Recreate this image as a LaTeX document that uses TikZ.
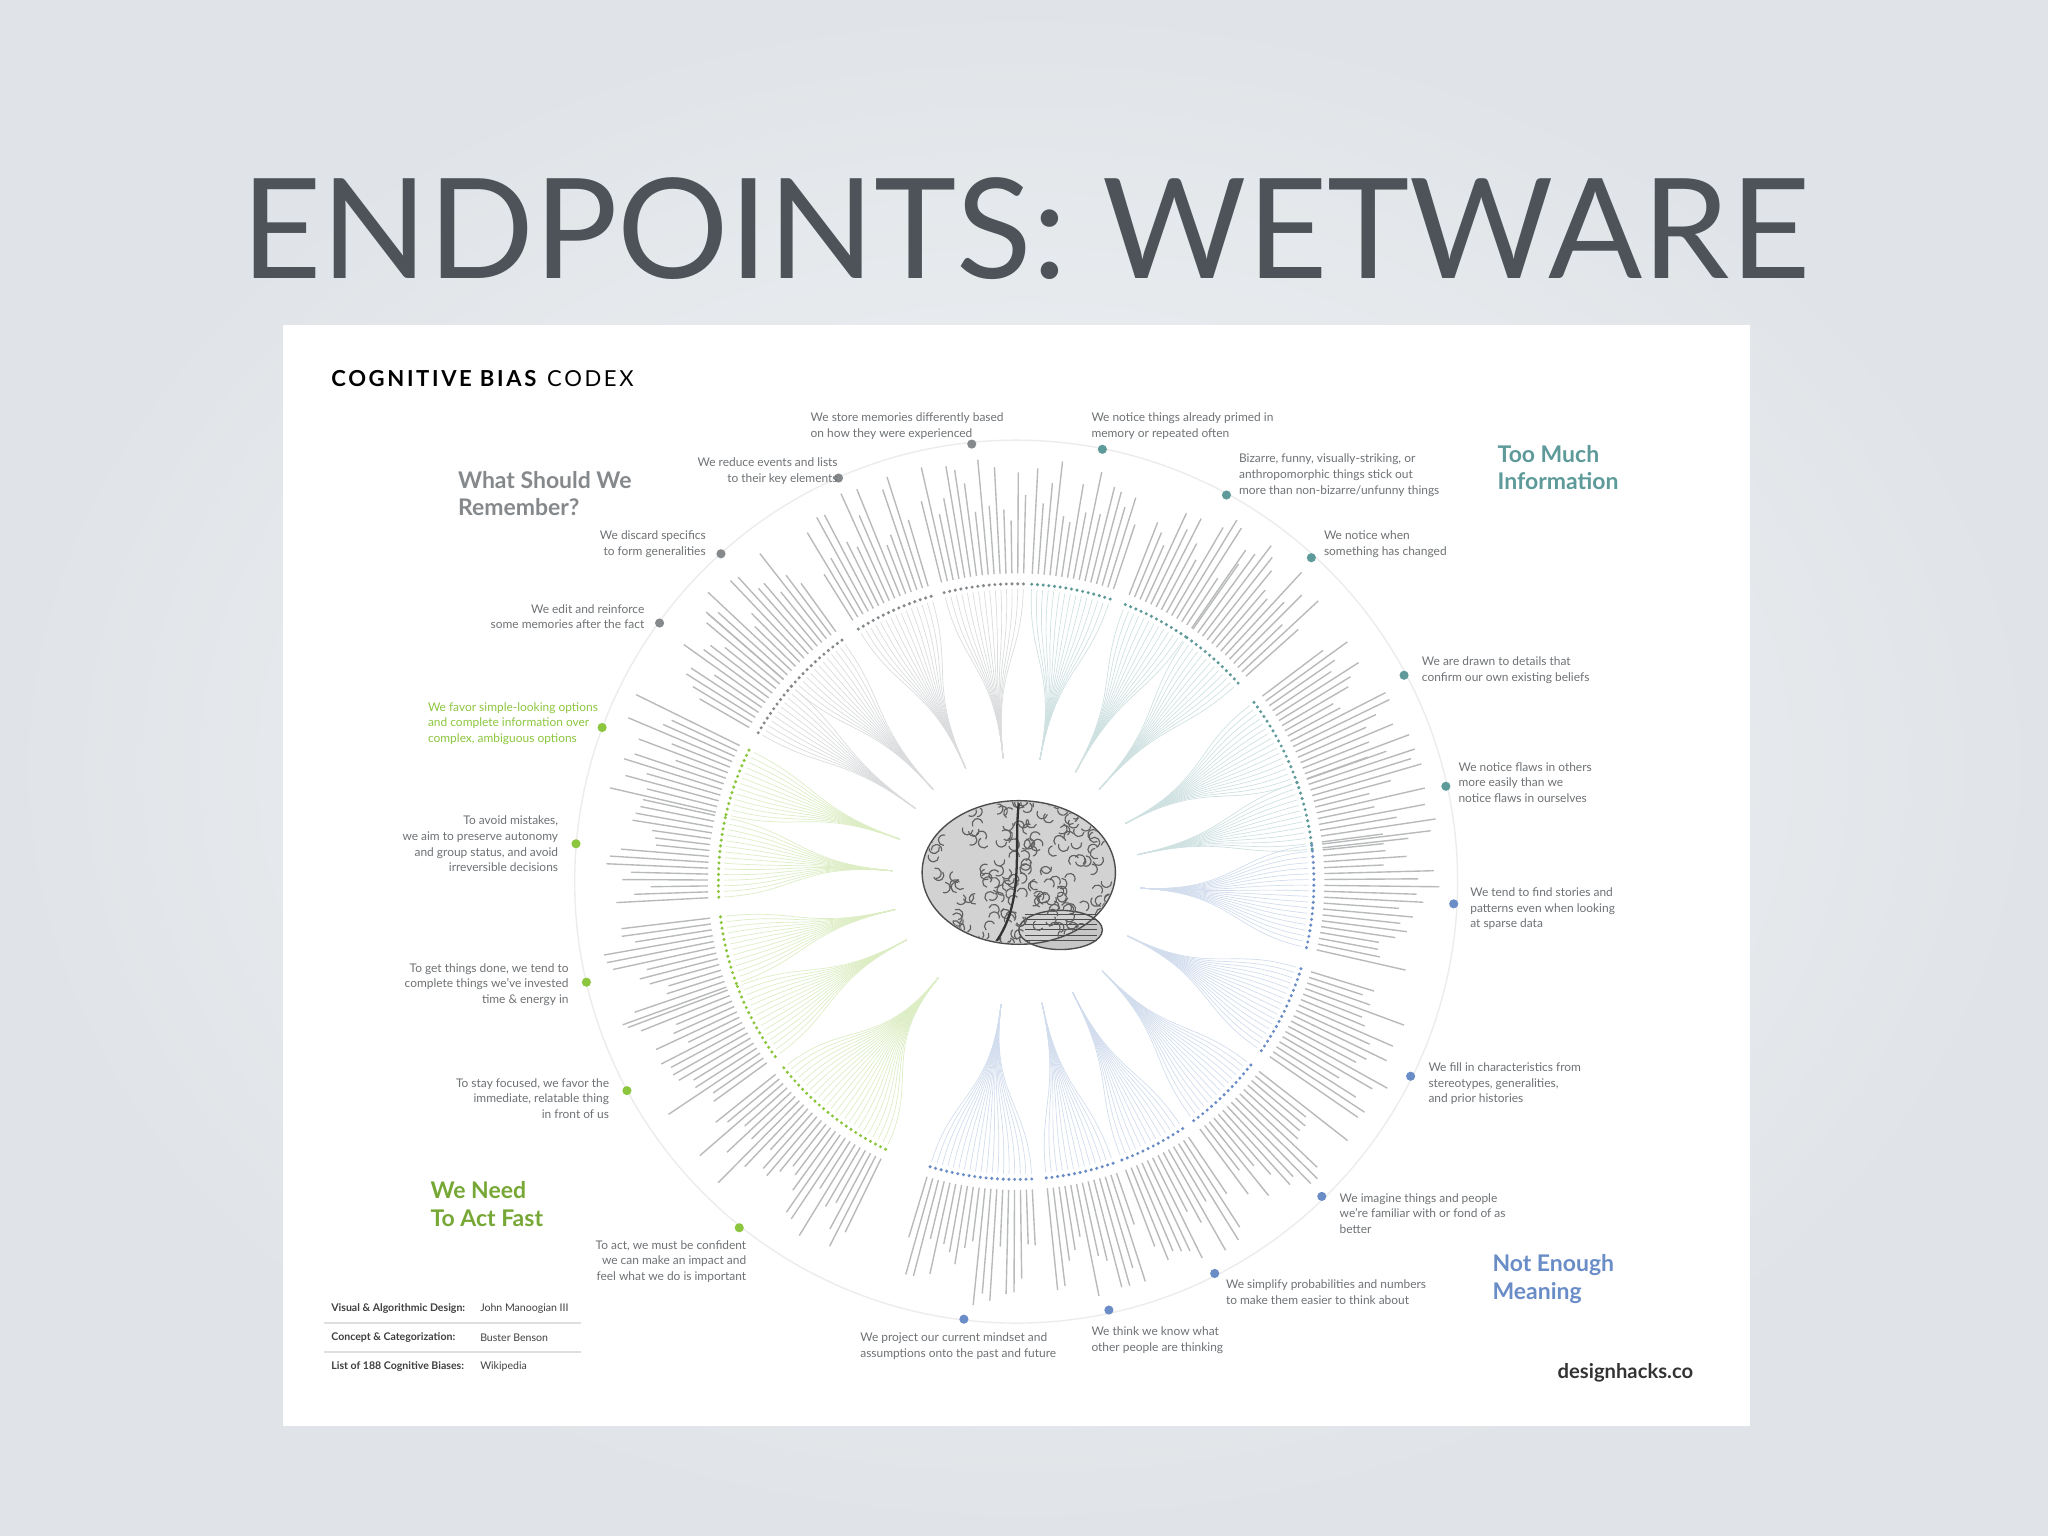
\documentclass[tikz,border=0pt]{standalone}
\usepackage{fontspec}
\setmainfont{Lato}
\definecolor{memg}{HTML}{85898C}
\definecolor{tealc}{HTML}{5E9A9A}
\definecolor{bluc}{HTML}{6A8CC7}
\definecolor{grnc}{HTML}{8CC63E}
\definecolor{titc}{HTML}{4D5358}
\definecolor{txtc}{HTML}{6E7275}
\definecolor{bgin}{HTML}{F2F4F6}
\definecolor{bgout}{HTML}{E0E4E8}
\tikzset{
 lab/.style={font=\fontsize{2.6}{3.41}\selectfont, text=txtc, inner sep=0},
 quad/.style={font=\bfseries\fontsize{5}{6}\selectfont, inner sep=0, align=left},
 biastxt/.style={txtc!50, line width=0.3pt},
 fanln/.style={line width=0.15pt},
 dotc/.style={inner sep=0, minimum size=0.07cm, circle},
}
\begin{document}
\begin{tikzpicture}[x=0.01cm,y=-0.01cm]
\useasboundingbox (0,0) rectangle (1568,1176);
\shade[inner color=bgin, outer color=bgout] (0,0) rectangle (1568,1176);
\node (title) at (785,175) {\resizebox{12cm}{!}{\color{titc}\fontsize{32}{32}\selectfont ENDPOINTS: WETWARE}};
\fill[white] (217,249) rectangle (1340,1092);
\node[anchor=west, inner sep=0] (codex) at (253,290) {\fontsize{4.8}{5}\selectfont\addfontfeature{LetterSpace=12}\textbf{COGNITIVE BIAS} CODEX};
% outer ring
\draw[gray!15, line width=0.3pt] (778,675) circle (338);
\begin{scope}[shift={(778,675)}]
\pgfmathsetseed{7}
\foreach \c/\h/\col in {3/10/bluc,26/9/bluc,46/8/bluc,63/7/bluc,78/7/bluc,97/10/bluc,129/13/grnc,152/8/grnc,167/7/grnc,185/8/grnc,200/7/grnc,216/6/memg,228/7/memg,246/8/memg,264/8/memg,281/8/tealc,298.5/7/tealc,312/7/tealc,332/9/tealc,347.5/7/tealc}{
 \pgfmathsetmacro\lo{\c-\h}
 \pgfmathsetmacro\nx{\c-\h+1.1}
 \pgfmathsetmacro\hi{\c+\h}
 \foreach \a in {\lo,\nx,...,\hi}{
  \pgfmathsetmacro\len{40+rnd*50}
  \draw[fanln,\col!30] (\c:95) .. controls (\c:165) and (\a:170) .. (\a:224);
  \draw[biastxt] (\a:236) -- (\a:{236+\len});
  \fill[\col] (\a:228) circle (1.3);
 }
}
\end{scope}
% brain
\begin{scope}
\fill[gray!45] (812,712) ellipse (32 and 15);
\fill[gray!35] (780,668) ellipse (74 and 55);
\draw[gray!60!black, line width=0.3pt] (780,668) ellipse (74 and 55);
\draw[gray!60!black, line width=0.3pt] (812,712) ellipse (32 and 15);
\foreach \k in {0,...,5}{\draw[gray!60!black, line width=0.2pt] (785,{700+\k*4}) -- (840,{700+\k*4});}
\clip (780,668) ellipse (73 and 54);
\pgfmathsetseed{3}
\foreach \i in {1,...,220}{
 \pgfmathsetmacro\px{706+rnd*148}
 \pgfmathsetmacro\py{612+rnd*112}
 \pgfmathsetmacro\st{rnd*360}
 \draw[gray!75!black, line width=0.25pt] (\px,\py) arc[start angle=\st, delta angle=200, radius=4];
}
\draw[gray!40!black, line width=0.5pt] (780,615) .. controls (776,650) and (785,690) .. (762,722);
\end{scope}
% dots and labels
\tikzset{ring/.style={dotc, fill=#1}}
\node[ring=memg] (d1) at (744,340) {};
\node[lab, anchor=south west, align=left] (t1) at (620,337) {We store memories differently based\\on how they were experienced};
\node[ring=tealc] (d2) at (844,344) {};
\node[lab, anchor=south west, align=left] (t2) at (835,337) {We notice things already primed in\\memory or repeated often};
\node[ring=tealc] (d3) at (939,379) {};
\node[lab, anchor=north west, align=left] (t3) at (948,347) {Bizarre, funny, visually-striking, or\\anthropomorphic things stick out\\more than non-bizarre/unfunny things};
\node[ring=tealc] (d4) at (1004,427) {};
\node[lab, anchor=north west, align=left] (t4) at (1013,406) {We notice when\\something has changed};
\node[ring=tealc] (d5) at (1075,517) {};
\node[lab, anchor=north west, align=left] (t5) at (1088,502) {We are drawn to details that\\confirm our own existing beliefs};
\node[ring=tealc] (d6) at (1107,602) {};
\node[lab, anchor=north west, align=left] (t6) at (1116,583) {We notice flaws in others\\more easily than we\\notice flaws in ourselves};
\node[ring=bluc] (d7) at (1113,692) {};
\node[lab, anchor=north west, align=left] (t7) at (1125,679) {We tend to find stories and\\patterns even when looking\\at sparse data};
\node[ring=bluc] (d8) at (1080,824) {};
\node[lab, anchor=north west, align=left] (t8) at (1093,813) {We fill in characteristics from\\stereotypes, generalities,\\and prior histories};
\node[ring=bluc] (d9) at (1012,916) {};
\node[lab, anchor=north west, align=left] (t9) at (1025,913) {We imagine things and people\\we're familiar with or fond of as\\better};
\node[ring=bluc] (d10) at (930,975) {};
\node[lab, anchor=north west, align=left] (t10) at (938,979) {We simplify probabilities and numbers\\to make them easier to think about};
\node[ring=bluc] (d11) at (849,1003) {};
\node[lab, anchor=north west, align=left] (t11) at (835,1015) {We think we know what\\other people are thinking};
\node[ring=bluc] (d12) at (738,1010) {};
\node[lab, anchor=north west, align=left] (t12) at (658,1020) {We project our current mindset and\\assumptions onto the past and future};
\node[ring=grnc] (d13) at (566,940) {};
\node[lab, anchor=north east, align=right] (t13) at (572,949) {To act, we must be confident\\we can make an impact and\\feel what we do is important};
\node[ring=grnc] (d14) at (480,835) {};
\node[lab, anchor=north east, align=right] (t14) at (467,825) {To stay focused, we favor the\\immediate, relatable thing\\in front of us};
\node[ring=grnc] (d15) at (449,752) {};
\node[lab, anchor=north east, align=right] (t15) at (436,737) {To get things done, we tend to\\complete things we've invested\\time \& energy in};
\node[ring=grnc] (d16) at (441,646) {};
\node[lab, anchor=north east, align=right] (t16) at (428,624) {To avoid mistakes,\\we aim to preserve autonomy\\and group status, and avoid\\irreversible decisions};
\node[ring=grnc] (d17) at (461,557) {};
\node[lab, text=grnc, anchor=north west, align=left] (t17) at (327,537) {We favor simple-looking options\\and complete information over\\complex, ambiguous options};
\node[ring=memg] (d18) at (505,477) {};
\node[lab, anchor=north east, align=right] (t18) at (494,462) {We edit and reinforce\\some memories after the fact};
\node[ring=memg] (d19) at (552,424) {};
\node[lab, anchor=north east, align=right] (t19) at (541,406) {We discard specifics\\to form generalities};
\node[ring=memg] (d20) at (642,366) {};
\node[lab, anchor=north east, align=right] (t20) at (642,350) {We reduce events and lists\\to their key elements};
% quadrant titles
\node[quad, text=memg, anchor=north west] (q1) at (350,360) {What Should We\\Remember?};
\node[quad, text=tealc, anchor=north west] (q2) at (1146,340) {Too Much\\Information};
\node[quad, text=grnc!85!black, anchor=north west] (q3) at (329,904) {We Need\\To Act Fast};
\node[quad, text=bluc, anchor=north west] (q4) at (1142,960) {Not Enough\\Meaning};
% credits
\tikzset{cred/.style={font=\fontsize{2.3}{3}\selectfont, inner sep=0, anchor=west, text=black!75},
 credb/.style={cred, font=\bfseries\fontsize{2.3}{3}\selectfont}}
\node[credb] (c1) at (253,1002) {Visual \& Algorithmic Design:};
\node[cred] (c1b) at (367,1002) {John Manoogian III};
\node[credb] (c2) at (253,1024) {Concept \& Categorization:};
\node[cred] (c2b) at (367,1024) {Buster Benson};
\node[credb] (c3) at (253,1046) {List of 188 Cognitive Biases:};
\node[cred] (c3b) at (367,1046) {Wikipedia};
\draw[gray!25, line width=0.3pt] (248,1013) -- (445,1013);
\draw[gray!25, line width=0.3pt] (248,1035) -- (445,1035);
\node[inner sep=0, anchor=east, font=\bfseries\fontsize{4.4}{5}\selectfont, text=black!80] (dh) at (1297,1051) {designhacks.co};
\end{tikzpicture}
\end{document}
